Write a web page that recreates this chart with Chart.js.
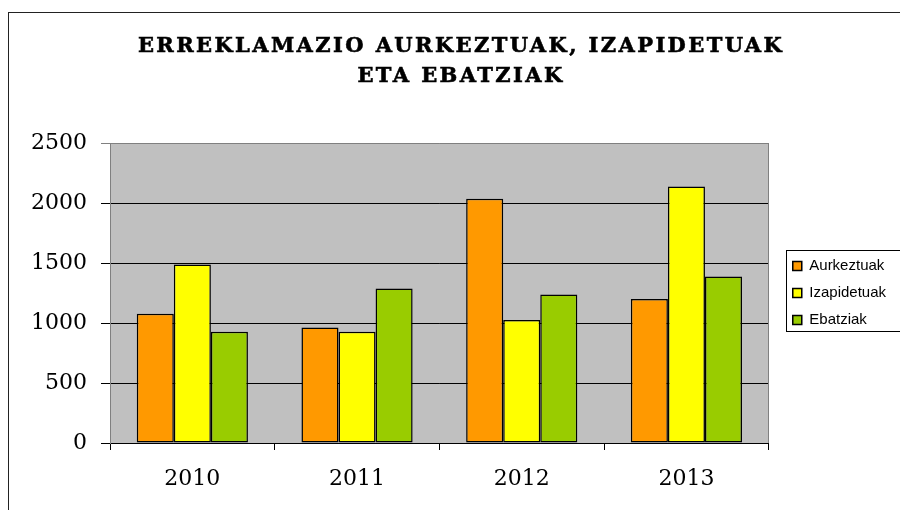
<!DOCTYPE html>
<html>
<head>
<meta charset="utf-8">
<script src="https://cdn.jsdelivr.net/npm/chart.js@4.4.0/dist/chart.umd.min.js"></script>
<style>
  html, body { margin: 0; padding: 0; background: #fff; }
  #wrap { position: relative; width: 900px; height: 510px; overflow: hidden; }
  #chart { position: absolute; left: 0; top: 0; }
  #title {
    position: absolute; left: 9px; top: 30px; width: 901px;
    text-align: center; padding-left: 3px; box-sizing: border-box;
    font-family: "DejaVu Serif", serif; font-weight: 700; font-size: 21px;
    line-height: 30px; letter-spacing: 2.4px; color: #000;
    -webkit-text-stroke: 0.6px #000;
  }
</style>
</head>
<body>
<div id="wrap">
  <canvas id="chart" width="900" height="510"></canvas>
  <div id="title">ERREKLAMAZIO AURKEZTUAK, IZAPIDETUAK<br>ETA EBATZIAK</div>
</div>
<script>
// Datuak
const years       = ['2010', '2011', '2012', '2013'];
const aurkeztuak  = [1078, 963, 2036, 1200];
const izapidetuak = [1488, 928, 1025, 2138];
const ebatziak    = [928, 1288, 1238, 1388];
const yMax  = 2500;
const yStep = 500;

const COLORS = {
  orange: '#ff9900',
  yellow: '#ffff00',
  green:  '#99cc00',
  plot:   '#c0c0c0',
  frame:  '#808080'
};

// fondo gris del área, marco exterior y caja de la leyenda
const framePlugin = {
  id: 'frame',
  beforeDraw(chart) {
    const { ctx, chartArea: a } = chart;
    ctx.save();
    ctx.fillStyle = COLORS.plot;
    ctx.fillRect(a.left, a.top, a.right - a.left, a.bottom - a.top);
    ctx.strokeStyle = '#222';
    ctx.lineWidth = 1;
    ctx.strokeRect(8.5, 12.5, 1000, 1000);
    ctx.restore();
  },
  afterLayout(chart) {
    // leyenda: algo separada del área y centrada en su altura
    const lg = chart.legend;
    lg.left += 12; lg.right += 12;
    lg.top = chart.chartArea.top;
    lg.bottom = chart.chartArea.bottom;
    lg.height = lg.bottom - lg.top;
  },
  afterDatasetsDraw(chart) {
    const { ctx, chartArea: a } = chart;
    ctx.save();
    ctx.strokeStyle = COLORS.frame;
    ctx.lineWidth = 1;
    ctx.beginPath();
    ctx.moveTo(Math.round(a.right) - 0.5, a.top);
    ctx.lineTo(Math.round(a.right) - 0.5, a.bottom);
    ctx.stroke();
    ctx.restore();
  },
  afterDraw(chart) {
    const lg = chart.legend;
    const hb = lg.legendHitBoxes;
    if (!hb || !hb.length) return;
    const { ctx } = chart;
    const top = hb[0].top - 8.5;
    const bottom = hb[hb.length - 1].top + hb[hb.length - 1].height + 3;
    ctx.save();
    ctx.strokeStyle = '#000';
    ctx.lineWidth = 1;
    ctx.strokeRect(Math.round(hb[0].left) - 6.5, Math.round(top) + 0.5, 200, Math.round(bottom - top));
    ctx.restore();
  }
};

const ds = (label, data, color) => ({
  label, data,
  backgroundColor: color,
  borderColor: '#000',
  borderWidth: 1.5,
  borderSkipped: false
});

new Chart(document.getElementById('chart'), {
  type: 'bar',
  data: {
    labels: years,
    datasets: [
      ds('Aurkeztuak', aurkeztuak, COLORS.orange),
      ds('Izapidetuak', izapidetuak, COLORS.yellow),
      ds('Ebatziak', ebatziak, COLORS.green)
    ]
  },
  options: {
    responsive: false,
    animation: false,
    events: [],
    categoryPercentage: 0.675,
    barPercentage: 1,
    layout: { padding: { top: 143, left: 0, right: 16, bottom: 0 } },
    plugins: {
      title: { display: false },
      tooltip: { enabled: false },
      legend: {
        position: 'right',
        align: 'center',
        labels: {
          color: '#000',
          font: { family: "'Liberation Sans', Arial, sans-serif", size: 15 },
          boxWidth: 9,
          boxHeight: 9,
          padding: 12
        }
      }
    },
    scales: {
      x: {
        grid: {
          offset: true,
          drawOnChartArea: false,
          drawTicks: true,
          tickLength: 7,
          color: '#000'
        },
        border: { color: '#000' },
        ticks: {
          color: '#000',
          font: { family: "'DejaVu Serif', serif", size: 22 },
          padding: 16
        },
        afterFit(scale) { scale.height = 67; }
      },
      y: {
        min: 0,
        max: yMax,
        ticks: {
          stepSize: yStep,
          color: '#000',
          font: { family: "'DejaVu Serif', serif", size: 22 },
          padding: 14,
          callback: v => String(v)
        },
        grid: {
          tickLength: 9,
          color: c => (c.tick && c.tick.value === yMax ? COLORS.frame : '#000')
        },
        border: { color: COLORS.frame },
        afterFit(scale) { scale.width = 110; }
      }
    }
  },
  plugins: [framePlugin]
});
</script>
</body>
</html>
